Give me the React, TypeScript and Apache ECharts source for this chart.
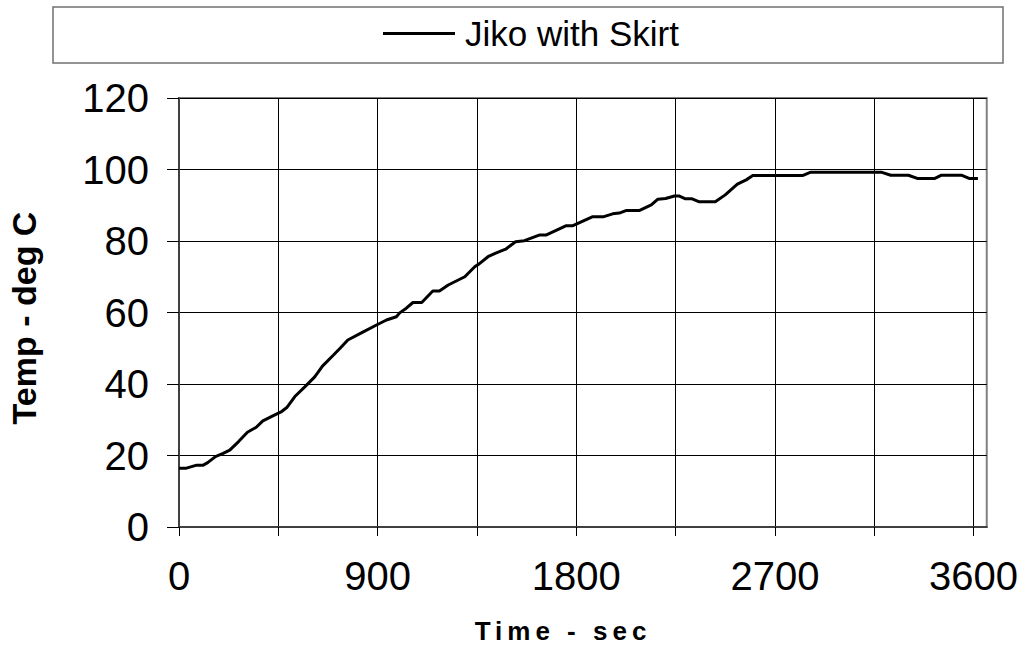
import React, { useEffect, useRef } from "react";
import * as echarts from "echarts";

const seriesName = "Jiko with Skirt";
const timeSec = [0, 30, 80, 110, 130, 165, 200, 230, 270, 310, 350, 380, 425, 465, 490, 525, 570, 615, 650, 700, 730, 765, 835, 895, 940, 985, 1000, 1030, 1060, 1100, 1150, 1180, 1220, 1295, 1340, 1360, 1400, 1435, 1480, 1525, 1565, 1635, 1665, 1755, 1785, 1835, 1875, 1925, 1965, 1995, 2025, 2085, 2140, 2170, 2205, 2245, 2265, 2295, 2325, 2355, 2430, 2475, 2530, 2570, 2600, 2825, 2860, 3185, 3225, 3305, 3345, 3425, 3455, 3545, 3580, 3620];
const tempC = [16.4, 16.4, 17.3, 17.3, 18, 19.7, 20.6, 21.5, 23.9, 26.5, 27.9, 29.7, 31.1, 32.3, 33.5, 36.5, 39.2, 42, 45, 48.1, 50, 52.3, 54.6, 56.5, 57.9, 58.8, 59.9, 61.2, 62.8, 62.8, 66, 66, 67.7, 70, 72.8, 73.6, 75.6, 76.6, 77.7, 79.8, 80.1, 81.7, 81.7, 84.3, 84.3, 85.7, 86.8, 86.8, 87.6, 87.8, 88.5, 88.5, 90.1, 91.7, 91.9, 92.6, 92.6, 91.8, 91.8, 91, 91, 92.9, 95.9, 97.1, 98.3, 98.3, 99.2, 99.2, 98.4, 98.4, 97.5, 97.5, 98.4, 98.4, 97.5, 97.5];
const xTickValues = [0, 450, 900, 1350, 1800, 2250, 2700, 3150, 3600];
const xLabelValues = [0, 900, 1800, 2700, 3600];
const xTitle = "Time - sec";
const yTitle = "Temp - deg C";

const FONT = "'Liberation Sans', Arial, sans-serif";

export default function App() {
  const ref = useRef<HTMLDivElement>(null);
  useEffect(() => {
    if (!ref.current) return;
    const chart = echarts.init(ref.current, null, { renderer: "svg" });
    const data = timeSec.map((t, i) => [t, tempC[i]]);
    chart.setOption({
      animation: false,
      backgroundColor: "#ffffff",
      textStyle: { fontFamily: FONT },
      grid: {
        left: 179,
        top: 98,
        width: 809,
        height: 429,
        show: true,
        borderColor: "#808080",
        borderWidth: 2,
        backgroundColor: "transparent",
      },
      legend: {
        data: [{ name: seriesName, icon: "rect" }],
        left: 383,
        top: 16,
        padding: 0,
        itemWidth: 72,
        itemHeight: 3,
        textStyle: { fontSize: 35, color: "#000", fontFamily: FONT, padding: [0, 0, 0, 5] },
      },
      xAxis: {
        type: "value",
        min: 0,
        max: 3660,
        interval: 450,
        axisLine: { show: true, onZero: false, lineStyle: { color: "#404040", width: 2 } },
        axisTick: { show: true, length: 9, customValues: xTickValues, lineStyle: { color: "#000", width: 1 } },
        axisLabel: {
          customValues: xLabelValues,
          fontSize: 40,
          color: "#000",
          margin: 29,
          fontFamily: FONT,
          formatter: (v: number) => String(v),
        },
        splitLine: { show: true, lineStyle: { color: "#000", width: 1 } },
      },
      yAxis: {
        type: "value",
        min: 0,
        max: 120,
        interval: 20,
        axisLine: { show: true, lineStyle: { color: "#404040", width: 2 } },
        axisTick: { show: true, length: 12, lineStyle: { color: "#000", width: 1 } },
        axisLabel: { fontSize: 40, color: "#000", margin: 30, fontFamily: FONT },
        splitLine: { show: true, lineStyle: { color: "#000", width: 1 } },
      },
      series: [
        {
          name: seriesName,
          type: "line",
          data,
          symbol: "none",
          lineStyle: { color: "#000", width: 3 },
          itemStyle: { color: "#000" },
        },
      ],
      graphic: [
        {
          type: "rect",
          shape: { x: 53, y: 7, width: 950, height: 56 },
          style: { fill: "none", stroke: "#707070", lineWidth: 1.5 },
          z: -1,
        },
        {
          type: "text",
          x: 563,
          y: 631,
          style: {
            text: xTitle,
            font: `bold 26px ${FONT}`,
            fill: "#000",
            textAlign: "center",
            textVerticalAlign: "middle",
          },
        },
        {
          type: "text",
          x: 24,
          y: 318,
          rotation: Math.PI / 2,
          style: {
            text: yTitle,
            font: `bold 34px ${FONT}`,
            fill: "#000",
            textAlign: "center",
            textVerticalAlign: "middle",
          },
        },
      ],
    });
    try {
      const texts = ref.current.querySelectorAll("text");
      texts.forEach((el) => {
        if (el.textContent === xTitle) {
          el.setAttribute("letter-spacing", "5");
        }
      });
    } catch (e) {
      /* ignore */
    }
    return () => chart.dispose();
  }, []);
  return (
    <div
      ref={ref}
      style={{ position: "fixed", left: 0, top: 0, width: 1021, height: 651, background: "#fff" }}
    />
  );
}
